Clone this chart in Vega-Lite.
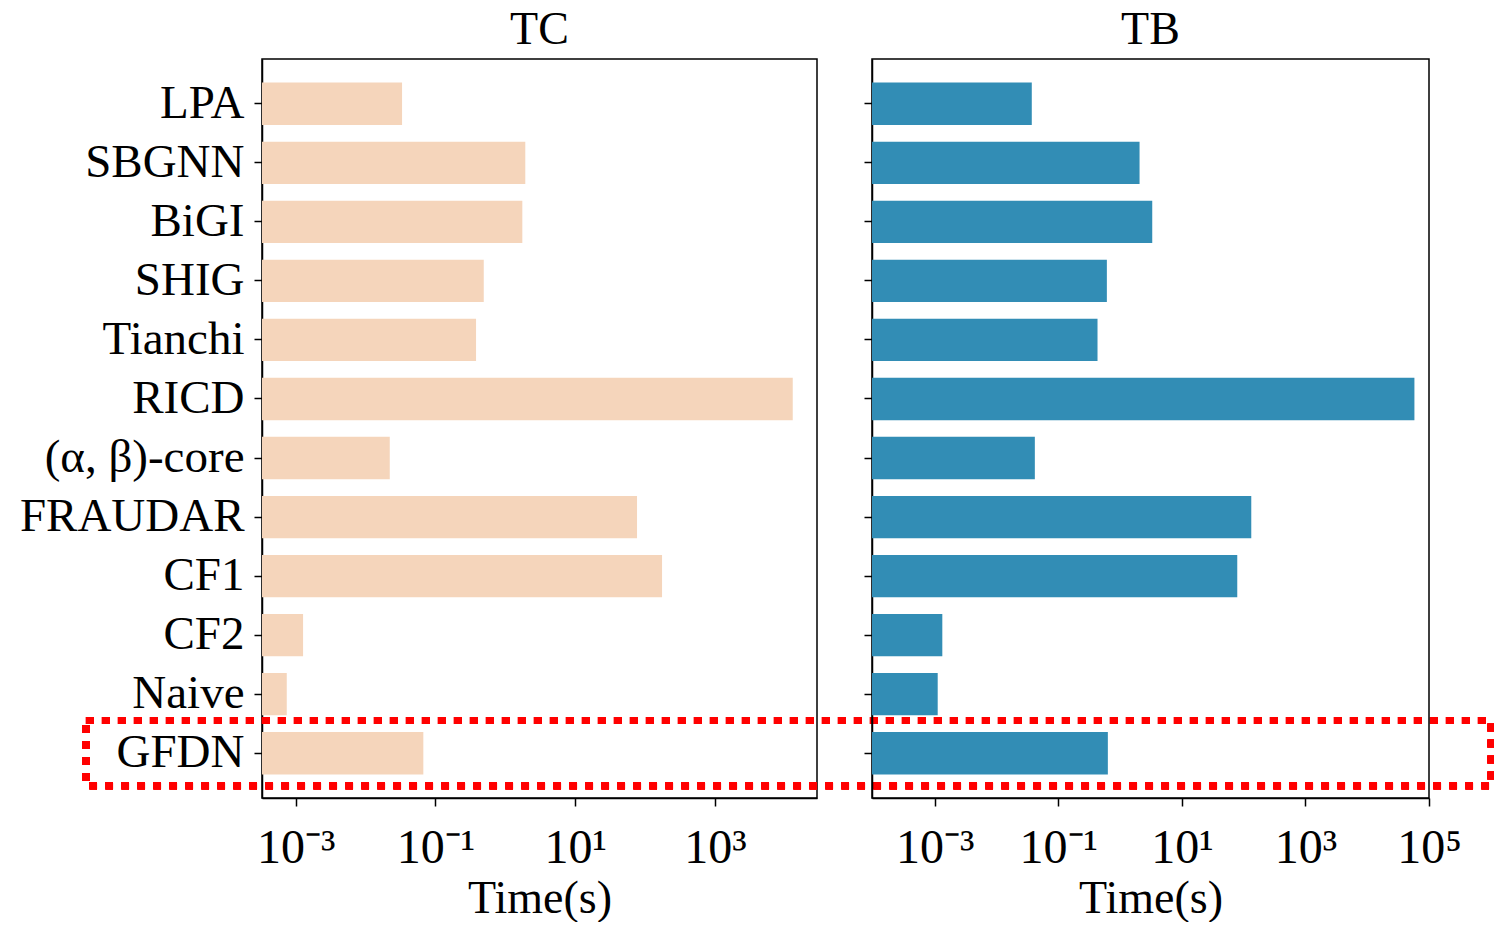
{
  "$schema": "https://vega.github.io/schema/vega-lite/v6.json",
  "background": "white",
  "padding": {"left": 18, "top": 6, "right": 0, "bottom": 0},
  "bounds": "flush",
  "spacing": 55,
  "config": {
    "font": "Liberation Serif",
    "view": {"stroke": "black", "strokeWidth": 1.5},
    "axis": {
      "domainColor": "black", "domainWidth": 1.5, "tickColor": "black", "tickWidth": 1.5, "tickSize": 8,
      "grid": false, "labelFont": "Liberation Serif", "titleFont": "Liberation Serif",
      "labelColor": "black", "titleColor": "black", "titleFontWeight": "normal"
    },
    "title": {"font": "Liberation Serif", "fontSize": 46, "fontWeight": "normal", "color": "black", "anchor": "middle", "offset": 5, "baseline": "alphabetic"}
  },
  "datasets": {
    "times": [
      {"method": "LPA", "TC": 0.0333, "TB": 0.0373},
      {"method": "SBGNN", "TC": 1.93, "TB": 2.07},
      {"method": "BiGI", "TC": 1.75, "TB": 3.32},
      {"method": "SHIG", "TC": 0.491, "TB": 0.612},
      {"method": "Tianchi", "TC": 0.381, "TB": 0.432},
      {"method": "RICD", "TC": 12940, "TB": 58070},
      {"method": "(α, β)-core", "TC": 0.0222, "TB": 0.0418},
      {"method": "FRAUDAR", "TC": 76.6, "TB": 133},
      {"method": "CF1", "TC": 174.6, "TB": 78.9},
      {"method": "CF2", "TC": 0.001277, "TB": 0.00133},
      {"method": "Naive", "TC": 0.000746, "TB": 0.00112},
      {"method": "GFDN", "TC": 0.0671, "TB": 0.635}
    ]
  },
  "hconcat": [
    {
      "width": 555,
      "height": 739,
      "title": "TC",
      "data": {"name": "times"},
      "layer": [
        {
          "mark": {"type": "bar", "color": "#F5D5BB"},
          "encoding": {
            "y": {
              "field": "method", "type": "nominal", "sort": null,
              "scale": {"domain": ["LPA", "SBGNN", "BiGI", "SHIG", "Tianchi", "RICD", "(α, β)-core", "FRAUDAR", "CF1", "CF2", "Naive", "GFDN"], "paddingInner": 0.283, "paddingOuter": 0.4},
              "axis": {"title": null, "labelFontSize": 47, "labelPadding": 10, "labelLimit": 400}
            },
            "x": {
              "field": "TC", "type": "quantitative", "title": "Time(s)",
              "scale": {"type": "log", "domain": [0.00033, 28770], "nice": false},
              "axis": {
                "values": [0.001, 0.1, 10, 1000],
                "labelExpr": "'10' + (datum.value < 0.01 ? '⁻³' : datum.value < 1 ? '⁻¹' : datum.value < 100 ? '¹' : datum.value < 10000 ? '³' : '⁵')",
                "labelFontSize": 48, "labelPadding": 18, "labelFlush": false, "labelOverlap": false, "labelBound": false,
                "titleFontSize": 46, "titlePadding": 4
              }
            },
            "x2": {"datum": 0.00033}
          }
        },
        {
          "mark": {"type": "bar", "fill": "transparent", "stroke": "#FF0000", "strokeWidth": 7, "strokeDash": [7.5, 8.5], "height": {"band": 1.54}, "clip": false},
          "encoding": {
            "y": {"datum": "GFDN", "type": "nominal"},
            "x": {"datum": 0.000001, "type": "quantitative", "title": "Time(s)"},
            "x2": {"datum": 126000000000000}
          }
        }
      ]
    },
    {
      "width": 557,
      "height": 739,
      "title": "TB",
      "data": {"name": "times"},
      "mark": {"type": "bar", "color": "#328DB5"},
      "encoding": {
        "y": {
          "field": "method", "type": "nominal", "sort": null,
          "scale": {"domain": ["LPA", "SBGNN", "BiGI", "SHIG", "Tianchi", "RICD", "(α, β)-core", "FRAUDAR", "CF1", "CF2", "Naive", "GFDN"], "paddingInner": 0.283, "paddingOuter": 0.4},
          "axis": {"title": null, "labels": false}
        },
        "x": {
          "field": "TB", "type": "quantitative", "title": "Time(s)",
          "scale": {"type": "log", "domain": [0.0000968, 100000], "nice": false},
          "axis": {
            "values": [0.001, 0.1, 10, 1000, 100000],
            "labelExpr": "'10' + (datum.value < 0.01 ? '⁻³' : datum.value < 1 ? '⁻¹' : datum.value < 100 ? '¹' : datum.value < 10000 ? '³' : '⁵')",
            "labelFontSize": 48, "labelPadding": 18, "labelFlush": false, "labelOverlap": false, "labelBound": false,
            "titleFontSize": 46, "titlePadding": 4
          }
        },
        "x2": {"datum": 0.0000968}
      }
    }
  ]
}
